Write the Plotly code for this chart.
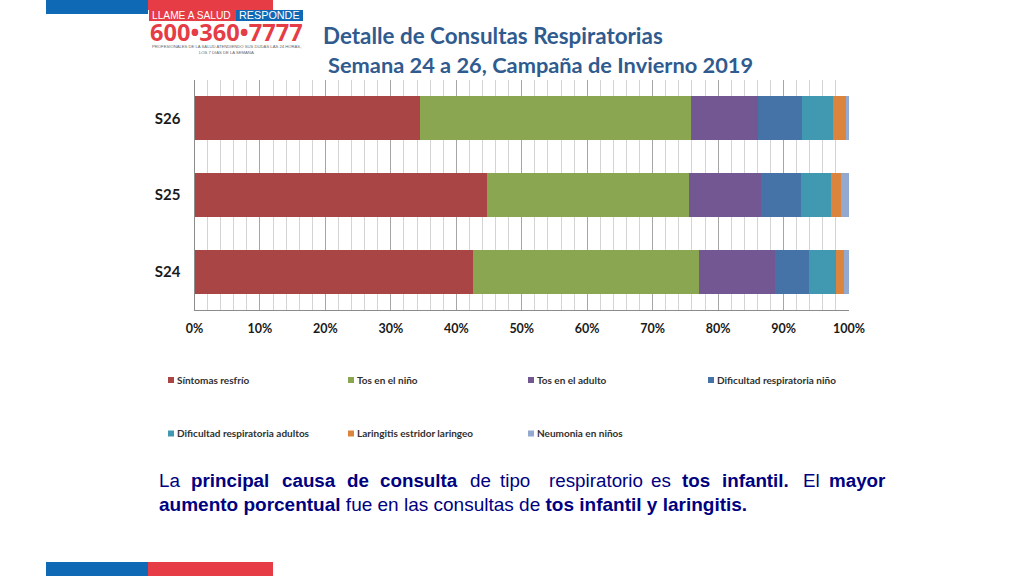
import plotly.graph_objects as go

W, H = 1024, 576

# data (percent of consultations per week)
weeks = ["S24", "S25", "S26"]
sintomas = [42.5, 44.7, 34.4]
tos_nino = [34.6, 30.8, 41.4]
tos_adulto = [11.6, 11.0, 10.3]
dif_nino = [5.2, 6.2, 6.7]
dif_adulto = [4.1, 4.5, 4.7]
laringitis = [1.3, 1.6, 2.0]
neumonia = [0.7, 1.2, 0.5]

series_names = [
    "Síntomas resfrío",
    "Tos en el niño",
    "Tos en el adulto",
    "Dificultad respiratoria niño",
    "Dificultad respiratoria adultos",
    "Laringitis estridor laringeo",
    "Neumonia en niños",
]
series_values = [sintomas, tos_nino, tos_adulto, dif_nino, dif_adulto, laringitis, neumonia]
series_colors = ["#a94544", "#8aa650", "#735792", "#4572a7", "#4098b1", "#db843d", "#93a9cf"]
x_ticks = [0, 10, 20, 30, 40, 50, 60, 70, 80, 90, 100]

NAVY = "#000080"
line1 = [
    ("La", False, 159), ("principal", True, 190.5), ("causa", True, 281.5), ("de", True, 346.5),
    ("consulta", True, 380), ("de", False, 470), ("tipo", False, 500), ("respiratorio", False, 549),
    ("es", False, 650.5), ("tos", True, 682), ("infantil.", True, 721.5), ("El", False, 802.5),
    ("mayor", True, 828.5),
]
line2 = "<b>aumento porcentual</b> fue en las consultas de <b>tos infantil y laringitis.</b>"


def px_x(v):
    return v / W


def px_y(v):
    return 1 - v / H


def text(x, y, s, size, color, family="Lato", anchor="left"):
    # annotations carry about 2px of padding, x is where the glyphs start
    x = x - 2 if anchor == "left" else x
    fig.add_annotation(
        x=px_x(x), y=px_y(y), xref="paper", yref="paper", text=s, showarrow=False,
        xanchor=anchor, yanchor="middle", font=dict(size=size, color=color, family=family),
    )


def rect(x0, y0, x1, y1, color):
    fig.add_shape(
        type="rect", xref="paper", yref="paper", x0=px_x(x0), x1=px_x(x1),
        y0=px_y(y0), y1=px_y(y1), fillcolor=color, line_width=0,
    )


fig = go.Figure()

for name, vals, col in zip(series_names, series_values, series_colors):
    fig.add_trace(
        go.Bar(
            y=weeks, x=vals, name=name, orientation="h", marker_color=col,
            marker_line_width=0, width=0.57,
        )
    )

fig.update_layout(
    width=W, height=H, margin=dict(l=0, r=0, t=0, b=0, autoexpand=False),
    paper_bgcolor="white", plot_bgcolor="white",
    barmode="stack", showlegend=False,
    xaxis=dict(
        domain=[px_x(194.5), px_x(849)], range=[0, 100], tickvals=x_ticks,
        ticktext=[f"<b>{v}%</b>" for v in x_ticks],
        showgrid=True, gridcolor="#a6a6a6", gridwidth=1,
        minor=dict(dtick=2, showgrid=True, gridcolor="#d4d4d4", gridwidth=1),
        showline=True, linecolor="#8c8c8c", ticks="", zeroline=False,
        ticklabelstandoff=7,
        tickfont=dict(size=12.5, color="#1a1a1a", family="Lato"),
    ),
    yaxis=dict(
        domain=[px_y(310), px_y(80)], categoryorder="array", categoryarray=weeks,
        showgrid=False, showline=True, linecolor="#8c8c8c", ticks="", zeroline=False,
        tickvals=weeks, ticktext=[f"<b>{w}</b>" for w in weeks], ticklabelstandoff=10,
        tickfont=dict(size=15, color="#1a1a1a", family="Lato"),
    ),
)

# page furniture: the corner bands
rect(46, 0, 148, 14, "#0f69b4")
rect(148, 0, 273, 10, "#e63c46")
rect(46, 562, 148, 576, "#0f69b4")
rect(148, 562, 273, 576, "#e63c46")

# logo
rect(149, 10, 236, 21, "#e63c46")
rect(236, 10, 303, 21, "#0f69b4")
text(152, 15.5, "LLAME A SALUD", 10.2, "white", "Liberation Sans")
text(239, 15.5, "RESPONDE", 10.8, "white", "Liberation Sans")
text(150, 32, "<b>600•360•7777</b>", 23.6, "#e63c46", "Open Sans")
text(226, 47, "PROFESIONALES DE LA SALUD ATENDIENDO SUS DUDAS LAS 24 HORAS,", 4.2, "#666666", "Liberation Sans", "center")
text(226, 52.5, "LOS 7 DIAS DE LA SEMANA", 4.2, "#666666", "Liberation Sans", "center")

# title
text(323, 35.5, "<b>Detalle de Consultas Respiratorias</b>", 22.4, "#2f5b8f")
text(328, 64.5, "<b>Semana 24 a 26, Campaña de Invierno 2019</b>", 21.8, "#2f5b8f")

# legend, small swatches in a 4 column grid
for i, (name, col) in enumerate(zip(series_names, series_colors)):
    lx = 168 + 180 * (i % 4)
    ly = 380 if i < 4 else 433.5
    rect(lx, ly - 3, lx + 6, ly + 3, col)
    text(lx + 8.5, ly - 0.5, f"<b>{name}</b>", 10, "#303030", "Lato")

# justified first line, one word at a time
for word, bold, x in line1:
    text(x, 480, f"<b>{word}</b>" if bold else word, 18.8, NAVY, "Liberation Sans")
text(159, 504, line2, 19, NAVY, "Liberation Sans")

fig.write_html(
    "out.html",
    config={"displayModeBar": False},
    post_script="document.body.style.margin='0';",
)
